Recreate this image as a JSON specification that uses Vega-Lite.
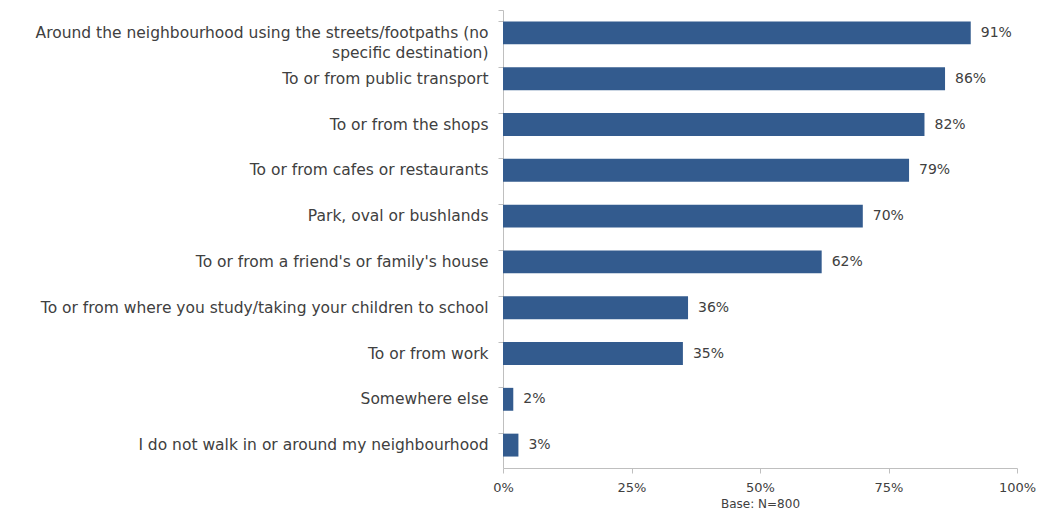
{
  "$schema": "https://vega.github.io/schema/vega-lite/v6.json",
  "autosize": {"type": "none"},
  "padding": {"left": 503, "top": 10, "right": 20, "bottom": 45},
  "width": 514,
  "height": 458,
  "background": "white",
  "config": {"view": {"stroke": null}, "font": "DejaVu Sans"},
  "data": {
    "values": [
      {"category": "Around the neighbourhood using the streets/footpaths (no|specific destination)", "value": 0.91},
      {"category": "To or from public transport", "value": 0.86},
      {"category": "To or from the shops", "value": 0.82},
      {"category": "To or from cafes or restaurants", "value": 0.79},
      {"category": "Park, oval or bushlands", "value": 0.70},
      {"category": "To or from a friend's or family's house", "value": 0.62},
      {"category": "To or from where you study/taking your children to school", "value": 0.36},
      {"category": "To or from work", "value": 0.35},
      {"category": "Somewhere else", "value": 0.02},
      {"category": "I do not walk in or around my neighbourhood", "value": 0.03}
    ]
  },
  "encoding": {
    "y": {
      "field": "category",
      "type": "nominal",
      "sort": null,
      "scale": {"paddingInner": 0.5, "paddingOuter": 0.25},
      "axis": {
        "title": null,
        "labelExpr": "split(datum.label, '|')",
        "labelLimit": 600,
        "labelFontSize": 15.5,
        "labelLineHeight": 20,
        "labelColor": "#404040",
        "labelPadding": 10,
        "tickSize": 5,
        "tickColor": "#bfbfbf",
        "domainColor": "#bfbfbf",
        "bandPosition": 0,
        "tickExtra": true
      }
    },
    "x": {
      "field": "value",
      "type": "quantitative",
      "scale": {"domain": [0, 1]},
      "axis": {
        "title": "Base: N=800",
        "titleFontSize": 12,
        "titleFontWeight": "normal",
        "titleColor": "#404040",
        "titlePadding": 4,
        "format": ".0%",
        "values": [0, 0.25, 0.5, 0.75, 1],
        "labelFlush": false,
        "grid": false,
        "labelFontSize": 13,
        "labelColor": "#404040",
        "labelPadding": 8,
        "tickSize": 5,
        "tickColor": "#bfbfbf",
        "domainColor": "#bfbfbf"
      }
    }
  },
  "layer": [
    {"mark": {"type": "bar", "color": "#335b8e"}},
    {
      "mark": {"type": "text", "align": "left", "dx": 10, "fontSize": 14, "color": "#404040"},
      "encoding": {"text": {"field": "value", "type": "quantitative", "format": ".0%"}}
    }
  ]
}
